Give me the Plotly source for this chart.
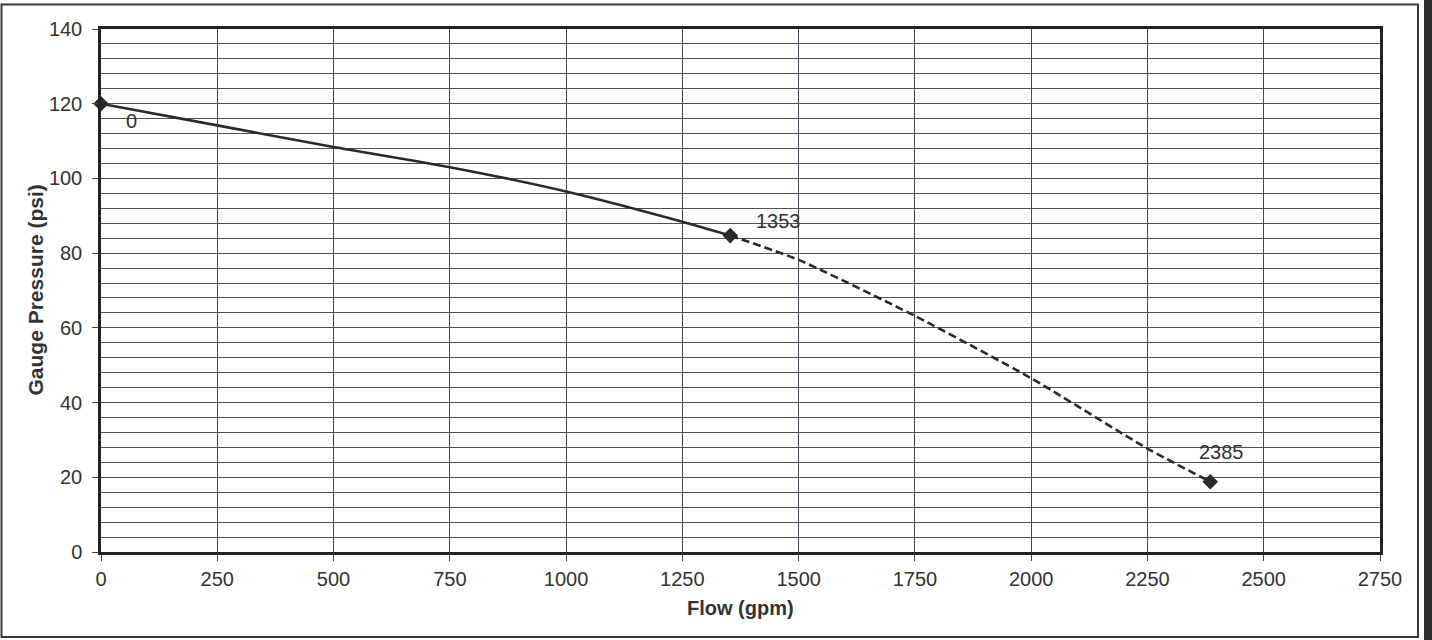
import plotly.graph_objects as go

# Data
flow_solid = [0, 250, 500, 750, 1000, 1250, 1353]
psi_solid = [120, 114.2, 108.4, 103.0, 96.5, 88.4, 84.7]
flow_dash = [1353, 1500, 1750, 2000, 2250, 2385]
psi_dash = [84.7, 78.2, 63.2, 46.5, 27.7, 18.8]
point_flow = [0, 1353, 2385]
point_psi = [120, 84.7, 18.8]
point_labels = ["0", "1353", "2385"]
label_shift_x = [30, 48, 11]
label_shift_y = [-17, 15, 30]

x_ticks = list(range(0, 2751, 250))
y_ticks = list(range(0, 141, 20))

INK = "#2a2a2a"
GRID = "#4a4658"
TXT = "#333333"
FONT = "Liberation Sans, Arial, sans-serif"

fig = go.Figure()
fig.add_trace(go.Scatter(x=flow_solid, y=psi_solid, mode="lines",
                         line=dict(color=INK, width=2.6, shape="spline", smoothing=0.6),
                         cliponaxis=False, hoverinfo="skip"))
fig.add_trace(go.Scatter(x=flow_dash, y=psi_dash, mode="lines",
                         line=dict(color=INK, width=2.6, dash="8px,4px", shape="spline", smoothing=0.6),
                         cliponaxis=False, hoverinfo="skip"))
fig.add_trace(go.Scatter(x=point_flow, y=point_psi, mode="markers",
                         marker=dict(symbol="diamond", size=12, color=INK),
                         cliponaxis=False))

annotations = []
for fx, py, lab, sx, sy in zip(point_flow, point_psi, point_labels, label_shift_x, label_shift_y):
    annotations.append(dict(x=fx, y=py, xref="x", yref="y", text=lab, showarrow=False,
                            xanchor="center", yanchor="middle",
                            xshift=sx, yshift=sy, font=dict(family=FONT, size=20, color=TXT)))

# axis titles
annotations.append(dict(x=0.5, y=0, xref="paper", yref="paper", text="<b>Flow (gpm)</b>",
                        showarrow=False, xanchor="center", yanchor="middle", yshift=-56,
                        font=dict(family=FONT, size=20, color=TXT)))
annotations.append(dict(x=0, y=0.5, xref="paper", yref="paper", text="<b>Gauge Pressure (psi)</b>",
                        showarrow=False, xanchor="center", yanchor="middle", xshift=-66, textangle=-90,
                        font=dict(family=FONT, size=21, color=TXT)))

W, H = 1432, 640
L, R, T, B = 101, 52, 29, 88
pw, ph = W - L - R, H - T - B

def px(p):
    return (p - L) / pw

def py_(q):
    return (H - B - q) / ph

shapes = [
    dict(type="rect", xref="paper", yref="paper", x0=px(1.5), x1=px(1418), y0=py_(637), y1=py_(4.5),
         line=dict(color="#3a3a3a", width=2), fillcolor="rgba(0,0,0,0)", layer="below"),
    dict(type="rect", xref="paper", yref="paper", x0=px(1424), x1=px(1433), y0=py_(641), y1=py_(-1),
         line=dict(width=0), fillcolor="#2e2e2e", layer="below"),
]

fig.update_layout(
    width=W, height=H,
    margin=dict(l=L, r=R, t=T, b=B),
    paper_bgcolor="white", plot_bgcolor="white",
    showlegend=False,
    annotations=annotations,
    shapes=shapes,
    xaxis=dict(range=[0, 2750], tickvals=x_ticks, ticktext=[str(v) for v in x_ticks],
               showgrid=True, gridcolor=GRID, gridwidth=1.3,
               showline=True, linecolor="#222222", linewidth=2.5, mirror=True,
               ticks="outside", ticklen=6, tickcolor="#444444", ticklabelstandoff=1,
               tickfont=dict(family=FONT, size=20, color=TXT), zeroline=False, fixedrange=True),
    yaxis=dict(range=[0, 140], tickvals=y_ticks, ticktext=[str(v) for v in y_ticks],
               showgrid=True, gridcolor="#505050", gridwidth=1.3,
               minor=dict(dtick=4, showgrid=True, gridcolor="#505050", gridwidth=1.3, ticks=""),
               showline=True, linecolor="#222222", linewidth=2.5, mirror=True,
               ticks="outside", ticklen=6, tickcolor="#444444", ticklabelstandoff=6,
               tickfont=dict(family=FONT, size=20, color=TXT), zeroline=False, fixedrange=True),
)

fig.write_html("out.html", config={"displayModeBar": False},
               post_script="document.body.style.margin='0';")
